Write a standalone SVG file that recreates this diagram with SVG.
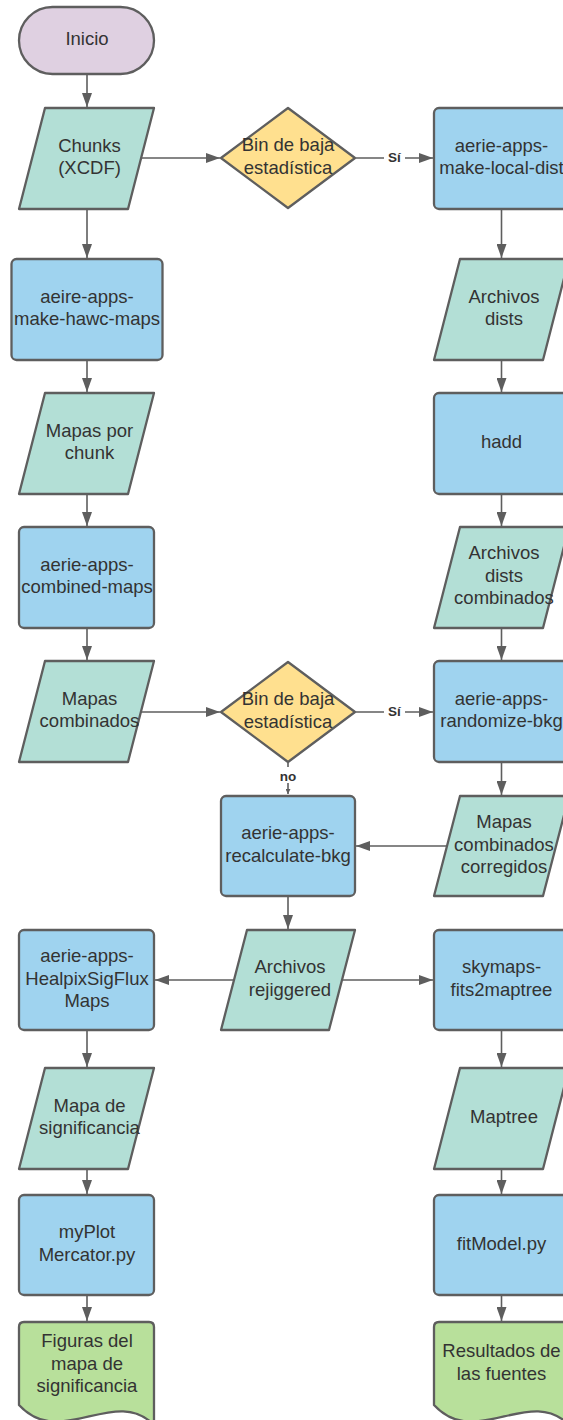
<svg xmlns="http://www.w3.org/2000/svg" width="563" height="1420" viewBox="0 0 563 1420">
<defs>
<style>
.sh{stroke:#5e5e5e;stroke-width:2.3;stroke-linejoin:round}
.term{fill:#dfd0e1}
.io{fill:#b3dfd6}
.proc{fill:#9fd3ef}
.dec{fill:#ffe08f}
.doc{fill:#b8e09b}
text{font-family:"Liberation Sans",Arial,sans-serif;font-size:18.5px;fill:#333;text-anchor:middle}
.lbl{font-size:13.5px;font-weight:bold}
.c{fill:none;stroke:#5e5e5e;stroke-width:1.6}
</style>
<marker id="ah" markerUnits="userSpaceOnUse" viewBox="0 0 14 10" refX="14" refY="5" markerWidth="14" markerHeight="10" orient="auto">
<path d="M0,0 L14,5 L0,10 z" fill="#5e5e5e"/>
</marker>
<marker id="ahs" markerUnits="userSpaceOnUse" viewBox="0 0 5 5" refX="5" refY="2.5" markerWidth="5" markerHeight="5" orient="auto">
<path d="M0,0 L5,2.5 L0,5 z" fill="#5e5e5e"/>
</marker>
</defs>
<rect width="563" height="1420" fill="#fff"/>
<g id="connectors">
<path class="c" d="M87,75 V107" marker-end="url(#ah)"/>
<path class="c" d="M141,158 H220" marker-end="url(#ah)"/>
<path class="c" d="M356,158 H433" marker-end="url(#ah)"/>
<path class="c" d="M87,210 V258" marker-end="url(#ah)"/>
<path class="c" d="M87,361 V392" marker-end="url(#ah)"/>
<path class="c" d="M87,495 V526" marker-end="url(#ah)"/>
<path class="c" d="M87,629 V660" marker-end="url(#ah)"/>
<path class="c" d="M141,712 H220" marker-end="url(#ah)"/>
<path class="c" d="M356,712 H433" marker-end="url(#ah)"/>
<path class="c" d="M288,763 V794" marker-end="url(#ahs)"/>
<path class="c" d="M501.5,210 V258" marker-end="url(#ah)"/>
<path class="c" d="M501.5,361 V392" marker-end="url(#ah)"/>
<path class="c" d="M501.5,495 V526" marker-end="url(#ah)"/>
<path class="c" d="M501.5,629 V660" marker-end="url(#ah)"/>
<path class="c" d="M501.5,763 V795" marker-end="url(#ah)"/>
<path class="c" d="M447,846 H356" marker-end="url(#ah)"/>
<path class="c" d="M288,897 V929" marker-end="url(#ah)"/>
<path class="c" d="M234,980 H155" marker-end="url(#ah)"/>
<path class="c" d="M342,980 H433" marker-end="url(#ah)"/>
<path class="c" d="M87,1031 V1067" marker-end="url(#ah)"/>
<path class="c" d="M87,1170 V1194" marker-end="url(#ah)"/>
<path class="c" d="M87,1296 V1321" marker-end="url(#ah)"/>
<path class="c" d="M501.5,1031 V1067" marker-end="url(#ah)"/>
<path class="c" d="M501.5,1170 V1194" marker-end="url(#ah)"/>
<path class="c" d="M501.5,1296 V1321" marker-end="url(#ah)"/>
<rect x="384" y="149" width="21" height="15" fill="#fff"/>
<text class="lbl" x="394.5" y="161.5">Sí</text>
<rect x="384" y="703" width="21" height="15" fill="#fff"/>
<text class="lbl" x="394.5" y="715.5">Sí</text>
<rect x="277" y="767" width="22" height="16" fill="#fff"/>
<text class="lbl" x="288" y="780.5">no</text>
</g>
<g id="inicio"><rect class="sh term" x="19" y="7" width="135" height="67" rx="33.5"/><text x="87" y="45">Inicio</text></g>
<g id="chunks"><path class="sh io" d="M45,108 H154 L128,209 H19 Z"/><text x="89.5" y="151.5">Chunks</text><text x="89.5" y="174">(XCDF)</text></g>
<g id="decision1"><path class="sh dec" d="M221,158 L288,108 L355,158 L288,208 Z"/><text x="288" y="151">Bin de baja</text><text x="288" y="173.5">estadística</text></g>
<g id="make-local-dist"><rect class="sh proc" x="434" y="108" width="135" height="101" rx="5"/><text x="501.5" y="151.5">aerie-apps-</text><text x="501.5" y="174">make-local-dist</text></g>
<g id="make-hawc-maps"><rect class="sh proc" x="11.5" y="259" width="151" height="101" rx="5"/><text x="87" y="302.5">aeire-apps-</text><text x="87" y="325">make-hawc-maps</text></g>
<g id="archivos-dists"><path class="sh io" d="M460,259 H569 L543,360 H434 Z"/><text x="504" y="302.5">Archivos</text><text x="504" y="325">dists</text></g>
<g id="mapas-por-chunk"><path class="sh io" d="M45,393 H154 L128,494 H19 Z"/><text x="89.5" y="436.5">Mapas por</text><text x="89.5" y="459">chunk</text></g>
<g id="hadd"><rect class="sh proc" x="434" y="393" width="135" height="101" rx="5"/><text x="501.5" y="448">hadd</text></g>
<g id="combined-maps"><rect class="sh proc" x="19" y="527" width="135" height="101" rx="5"/><text x="87" y="570.5">aerie-apps-</text><text x="87" y="593">combined-maps</text></g>
<g id="dists-combinados"><path class="sh io" d="M460,527 H569 L543,628 H434 Z"/><text x="504" y="559">Archivos</text><text x="504" y="581.5">dists</text><text x="504" y="604">combinados</text></g>
<g id="mapas-combinados"><path class="sh io" d="M45,661 H154 L128,762 H19 Z"/><text x="89.5" y="704.5">Mapas</text><text x="89.5" y="727">combinados</text></g>
<g id="decision2"><path class="sh dec" d="M221,712 L288,662 L355,712 L288,762 Z"/><text x="288" y="705">Bin de baja</text><text x="288" y="727.5">estadística</text></g>
<g id="randomize-bkg"><rect class="sh proc" x="434" y="661" width="135" height="101" rx="5"/><text x="501.5" y="704.5">aerie-apps-</text><text x="501.5" y="727">randomize-bkg</text></g>
<g id="recalculate-bkg"><rect class="sh proc" x="221" y="796" width="134" height="100" rx="5"/><text x="288" y="839">aerie-apps-</text><text x="288" y="861.5">recalculate-bkg</text></g>
<g id="mapas-corregidos"><path class="sh io" d="M460,796 H569 L543,896 H434 Z"/><text x="504" y="828">Mapas</text><text x="504" y="850.5">combinados</text><text x="504" y="873">corregidos</text></g>
<g id="archivos-rejiggered"><path class="sh io" d="M247,930 H355 L329,1030 H221 Z"/><text x="290" y="973">Archivos</text><text x="290" y="995.5">rejiggered</text></g>
<g id="healpix"><rect class="sh proc" x="19" y="930" width="135" height="100" rx="5"/><text x="87" y="962">aerie-apps-</text><text x="87" y="984.5">HealpixSigFlux</text><text x="87" y="1007">Maps</text></g>
<g id="skymaps"><rect class="sh proc" x="434" y="930" width="135" height="100" rx="5"/><text x="501.5" y="973">skymaps-</text><text x="501.5" y="995.5">fits2maptree</text></g>
<g id="mapa-significancia"><path class="sh io" d="M45,1068 H154 L128,1169 H19 Z"/><text x="89.5" y="1111.5">Mapa de</text><text x="89.5" y="1134">significancia</text></g>
<g id="maptree"><path class="sh io" d="M460,1068 H569 L543,1169 H434 Z"/><text x="504" y="1123">Maptree</text></g>
<g id="myplot"><rect class="sh proc" x="19" y="1195" width="135" height="100" rx="5"/><text x="87" y="1238">myPlot</text><text x="87" y="1260.5">Mercator.py</text></g>
<g id="fitmodel"><rect class="sh proc" x="434" y="1195" width="135" height="100" rx="5"/><text x="501.5" y="1249.5">fitModel.py</text></g>
<g id="figuras"><path class="sh doc" d="M19,1327 Q19,1322 24,1322 H149 Q154,1322 154,1327 V1425 C115,1385 60,1450 19,1405 Z"/><text x="87" y="1347">Figuras del</text><text x="87" y="1369.5">mapa de</text><text x="87" y="1392">significancia</text></g>
<g id="resultados"><path class="sh doc" d="M434,1327 Q434,1322 439,1322 H564 Q569,1322 569,1327 V1425 C530,1385 475,1450 434,1405 Z"/><text x="501.5" y="1357">Resultados de</text><text x="501.5" y="1379.5">las fuentes</text></g>
</svg>
